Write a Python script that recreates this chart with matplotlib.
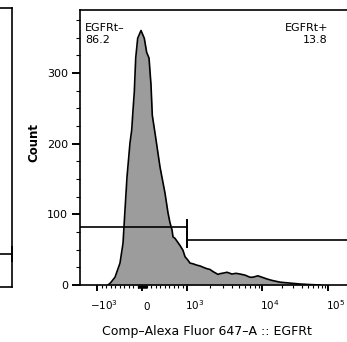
import numpy as np
import matplotlib
matplotlib.use("Agg")
import matplotlib.pyplot as plt
import matplotlib.transforms as mtransforms
from matplotlib.ticker import FixedLocator, FixedFormatter, NullFormatter

# ---------------- data ----------------
channel_values = [-756, -700, -600, -489, -422, -378, -333, -267, -229, -200, -171,
                  -140, -96, -22, 51, 104, 156, 200, 229, 289, 400, 511, 578, 622,
                  667, 689, 733, 844, 911, 956, 1031, 1096, 1202, 1359, 1491, 1650,
                  1850, 2024, 2221, 2589, 2754, 3100, 3415, 3981, 4500, 5094, 5925,
                  6902, 7568, 8810, 10000, 11905, 14170, 18738, 26560, 37650, 53360,
                  75650]
counts = [0, 3, 11, 31, 59, 106, 153, 201, 219, 247, 273,
          321, 349, 360, 349, 329, 321, 283, 240, 215, 167, 130, 102, 88,
          78, 68, 66, 56, 49, 40, 35, 31, 30, 28, 27, 25,
          23, 22, 19, 15, 16, 17, 18, 15.5, 16.5, 15.5, 14,
          11, 11, 13, 11, 8.5, 6.5, 4, 2.7, 1.4, 0.6,
          0]

gate_boundary = 1000
gate_neg_height = 82.5
gate_pos_height = 63
left_gate_height = 46

gate_neg_label = "EGFRt–\n86.2"
gate_pos_label = "EGFRt+\n13.8"

x_major_ticks = [-1000, 0, 1000, 10000, 100000]
x_major_labels = [r"$-10^{3}$", "0", r"$10^{3}$", r"$10^{4}$", r"$10^{5}$"]
x_minor_ticks = (list(range(-900, 0, 100)) + list(range(100, 1000, 100)) +
                 list(range(-90, 100, 10)) +
                 [m * 1000 for m in range(2, 10)] + [m * 10000 for m in range(2, 10)])
y_major_ticks = [0, 100, 200, 300]
y_minor_ticks = [25, 50, 75, 125, 150, 175, 225, 250, 275, 325, 350, 375]

x_label = "Comp–Alexa Fluor 647–A :: EGFRt"
y_label = "Count"

# ---------------- biexponential-like display scale ----------------
def fwd(x):
    x = np.asarray(x, dtype=float)
    out = np.empty_like(x)
    lin = np.abs(x) <= 1000
    out[lin] = 142 + 0.045 * x[lin]
    p1 = (x > 1000) & (x <= 10000)
    out[p1] = 187 + 75 * (np.log10(x[p1]) - 3)
    p2 = x > 10000
    out[p2] = 262 + 66 * (np.log10(x[p2]) - 4)
    ng = x < -1000
    out[ng] = 97 - 70 * (np.log10(-x[ng]) - 3)
    return out


def inv(u):
    u = np.asarray(u, dtype=float)
    out = np.empty_like(u)
    lin = (u >= 97) & (u <= 187)
    out[lin] = (u[lin] - 142) / 0.045
    p1 = (u > 187) & (u <= 262)
    out[p1] = 10 ** (3 + (u[p1] - 187) / 75)
    p2 = u > 262
    out[p2] = 10 ** (4 + (u[p2] - 262) / 66)
    ng = u < 97
    out[ng] = -10 ** (3 + (97 - u[ng]) / 70)
    return out


W, H = 347, 342
fig = plt.figure(figsize=(W / 100, H / 100), dpi=100)


def px_rect(l, t, r, b):
    return [l / W, 1 - b / H, (r - l) / W, (b - t) / H]


def style_axes(a):
    a.set_xscale("function", functions=(fwd, inv))
    a.xaxis.set_major_locator(FixedLocator(x_major_ticks))
    a.xaxis.set_major_formatter(FixedFormatter(x_major_labels))
    a.xaxis.set_minor_locator(FixedLocator(x_minor_ticks))
    a.yaxis.set_major_locator(FixedLocator(y_major_ticks))
    a.yaxis.set_minor_locator(FixedLocator(y_minor_ticks))
    a.tick_params(axis="x", which="major", direction="out", length=4, width=1.4,
                  labelsize=7.5, pad=14)
    a.tick_params(axis="x", which="minor", direction="out", length=2.5, width=0.8)
    a.tick_params(axis="y", which="major", direction="out", length=5.5, width=1.4,
                  labelsize=8, pad=3)
    a.tick_params(axis="y", which="minor", direction="out", length=3, width=0.8)
    for s in a.spines.values():
        s.set_linewidth(1.2)
    a.set_facecolor("white")


# ---------- partial neighbouring panel on the left ----------
axl = fig.add_axes(px_rect(-268.5, 8, 11.5, 287))
style_axes(axl)
axl.xaxis.set_major_formatter(NullFormatter())
axl.set_xlim(inv(72.5), inv(352.5))
axl.set_ylim(0, 389)
axl.spines["left"].set_visible(False)
axl.set_yticks([])
axl.set_yticks([], minor=True)
lx0, lx1 = axl.get_xlim()
axl.plot([gate_boundary, lx1], [left_gate_height, left_gate_height], color="black",
         lw=1.2, clip_on=False)
axl.plot([lx1], [left_gate_height], marker="|", ms=11, mew=1.4, color="black",
         clip_on=False)

# ---------- main panel ----------
ax = fig.add_axes(px_rect(80, 10, 360, 285))
style_axes(ax)
ax.set_xlim(inv(80), inv(360))
ax.set_ylim(0, 389)
ax.spines["right"].set_visible(False)

ax.fill_between(channel_values, counts, 0, color="#9c9c9c", lw=0, zorder=2)
ax.plot(channel_values, counts, color="black", lw=1.2, zorder=3)

x0, x1 = ax.get_xlim()
ax.plot([x0, gate_boundary], [gate_neg_height, gate_neg_height], color="black", lw=1.2,
        zorder=4)
ax.plot([gate_boundary], [gate_neg_height], marker="|", ms=11, mew=1.4, color="black",
        zorder=4)
ax.plot([gate_boundary, x1], [gate_pos_height, gate_pos_height], color="black", lw=1.2,
        zorder=4)
ax.plot([gate_boundary], [gate_pos_height], marker="|", ms=11, mew=1.4, color="black",
        zorder=4)

ax.text(5 / 280, (285 - 23) / 275, gate_neg_label, transform=ax.transAxes, ha="left",
        va="top", fontsize=8, linespacing=1.2)
ax.text((328 - 80) / 280, (285 - 23) / 275, gate_pos_label, transform=ax.transAxes,
        ha="right", va="top", fontsize=8, multialignment="right", linespacing=1.2)

fig.text(33.5 / W, 1 - 142 / H, y_label, rotation=90, fontweight="bold", fontsize=8.5,
         ha="center", va="center")
fig.text(206.5 / W, 1 - 335 / H, x_label, ha="center", va="baseline", fontsize=9)

for lbl in ax.get_xticklabels():
    dx = 5 if lbl.get_text() == "0" else 7.5
    lbl.set_va("baseline")
    lbl.set_transform(lbl.get_transform() +
                      mtransforms.ScaledTranslation(dx / 100, 0, fig.dpi_scale_trans))

fig.savefig("out.png", dpi=100)
